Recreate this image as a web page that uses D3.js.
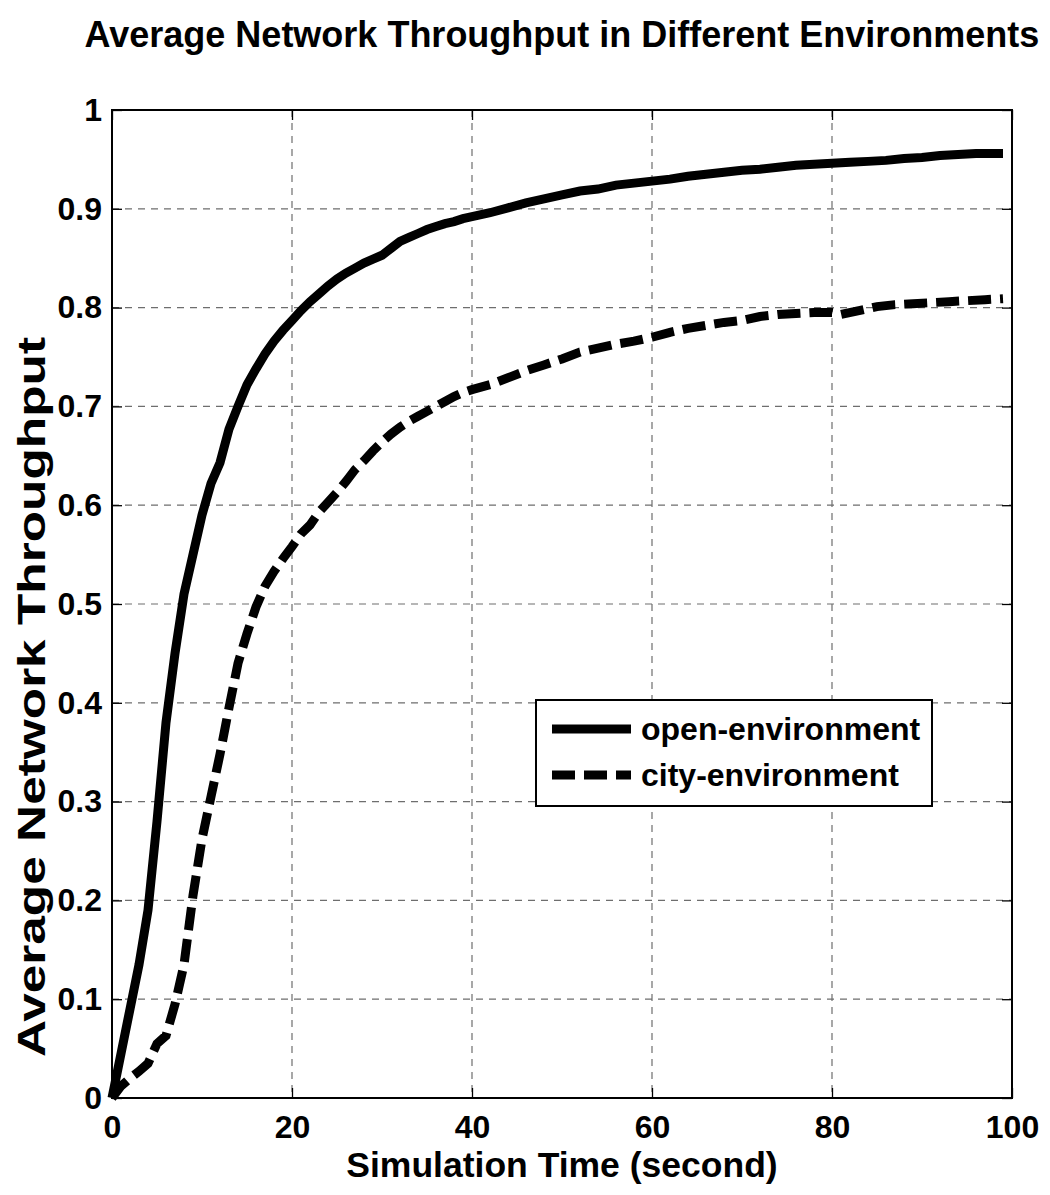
<!DOCTYPE html>
<html>
<head>
<meta charset="utf-8">
<script src="https://cdn.jsdelivr.net/npm/d3@7"></script>
<style>
  body { margin: 0; background: #fff; }
  text { font-family: "Liberation Sans", Arial, Helvetica, sans-serif; font-weight: bold; fill: #000; }
</style>
</head>
<body>
<script>
// Data
var openTime = [0,1,2,3,4,5,6,7,8,9,10,11,12,13,14,15,16,17,18,19,20,21,22,23,24,25,26,27,28,29,30,31,32,33,34,35,36,37,38,39,40,42,44,46,48,50,52,54,56,58,60,62,64,66,68,70,72,74,76,78,80,82,84,86,88,90,92,94,96,98,99];
var openValue = [0,0.045,0.09,0.135,0.19,0.28,0.38,0.45,0.51,0.55,0.59,0.622,0.643,0.677,0.70,0.722,0.738,0.753,0.766,0.777,0.787,0.797,0.806,0.814,0.822,0.829,0.835,0.840,0.845,0.849,0.853,0.860,0.867,0.871,0.875,0.879,0.882,0.885,0.887,0.890,0.892,0.896,0.901,0.906,0.910,0.914,0.918,0.920,0.924,0.926,0.928,0.930,0.933,0.935,0.937,0.939,0.940,0.942,0.944,0.945,0.946,0.947,0.948,0.949,0.951,0.952,0.954,0.955,0.956,0.956,0.956];

var cityTime = [0,1,2,3,4,5,6,7,8,9,10,11,12,13,14,15,16,17,18,19,20,21,22,23,24,25,26,27,28,29,30,31,32,33,34,35,36,37,38,39,40,42,44,46,48,50,52,54,56,58,60,62,64,66,68,70,72,74,76,78,80,81,83,85,87,89,91,93,95,97,99];
var cityValue = [0,0.012,0.02,0.027,0.035,0.055,0.063,0.095,0.135,0.205,0.262,0.305,0.348,0.395,0.44,0.47,0.497,0.518,0.533,0.546,0.558,0.571,0.580,0.593,0.603,0.613,0.624,0.636,0.645,0.655,0.664,0.672,0.679,0.685,0.690,0.695,0.700,0.705,0.710,0.714,0.717,0.722,0.729,0.736,0.742,0.748,0.755,0.759,0.763,0.766,0.770,0.775,0.779,0.782,0.785,0.787,0.791,0.793,0.794,0.795,0.795,0.793,0.797,0.801,0.803,0.804,0.805,0.806,0.807,0.808,0.809];

var seriesNames = ["open-environment", "city-environment"];
var xTicks = [0, 20, 40, 60, 80, 100];
var yTicks = [0, 0.1, 0.2, 0.3, 0.4, 0.5, 0.6, 0.7, 0.8, 0.9, 1];

var svgWidth = 1050;
var svgHeight = 1195;
var margin = { top: 110, right: 38, bottom: 97, left: 112 };
var width = svgWidth - margin.left - margin.right;
var height = svgHeight - margin.top - margin.bottom;

var svg = d3.select("body")
  .append("svg")
  .attr("width", svgWidth)
  .attr("height", svgHeight);

svg.append("rect")
  .attr("width", svgWidth)
  .attr("height", svgHeight)
  .attr("fill", "#fff");

var chart = svg.append("g")
  .attr("transform", "translate(" + margin.left + "," + margin.top + ")");

var x = d3.scaleLinear().domain([0, 100]).range([0, width]);
var y = d3.scaleLinear().domain([0, 1]).range([height, 0]);

// Grid lines (dashed grey)
chart.append("g")
  .selectAll("line")
  .data(xTicks.slice(1, -1))
  .enter().append("line")
  .attr("x1", function (d) { return x(d); })
  .attr("x2", function (d) { return x(d); })
  .attr("y1", 0)
  .attr("y2", height)
  .attr("stroke", "#6e6e6e")
  .attr("stroke-width", 1.2)
  .attr("stroke-dasharray", "7,6");

chart.append("g")
  .selectAll("line")
  .data(yTicks.slice(1, -1))
  .enter().append("line")
  .attr("x1", 0)
  .attr("x2", width)
  .attr("y1", function (d) { return y(d); })
  .attr("y2", function (d) { return y(d); })
  .attr("stroke", "#6e6e6e")
  .attr("stroke-width", 1.2)
  .attr("stroke-dasharray", "7,6");

// Axes, ticks pointing inward (MATLAB style)
var bottomAxis = d3.axisBottom(x).tickValues(xTicks).tickSize(-10).tickPadding(17).tickFormat(d3.format("d"));
var topAxis = d3.axisTop(x).tickValues(xTicks).tickSize(-10).tickFormat("");
var leftAxis = d3.axisLeft(y).tickValues(yTicks).tickSize(-10).tickPadding(10).tickFormat(function (d) { return d3.format("")(+d.toFixed(1)); });
var rightAxis = d3.axisRight(y).tickValues(yTicks).tickSize(-10).tickFormat("");

function styleAxis(g) {
  g.select(".domain").remove();
  g.selectAll(".tick line").attr("stroke", "#000").attr("stroke-width", 1.3);
  g.selectAll(".tick text")
    .style("font-family", "'Liberation Sans', Arial, sans-serif")
    .style("font-weight", "bold")
    .style("font-size", "32px")
    .attr("fill", "#000");
}

chart.append("g").attr("transform", "translate(0," + height + ")").call(bottomAxis).call(styleAxis);
chart.append("g").call(topAxis).call(styleAxis);
chart.append("g").call(leftAxis).call(styleAxis);
chart.append("g").attr("transform", "translate(" + width + ",0)").call(rightAxis).call(styleAxis);

// Box
chart.append("rect")
  .attr("width", width)
  .attr("height", height)
  .attr("fill", "none")
  .attr("stroke", "#000")
  .attr("stroke-width", 2);

// Lines
var line = d3.line()
  .x(function (d) { return x(d[0]); })
  .y(function (d) { return y(d[1]); });

var openData = d3.zip(openTime, openValue);
var cityData = d3.zip(cityTime, cityValue);

chart.append("path")
  .datum(openData)
  .attr("d", line)
  .attr("fill", "none")
  .attr("stroke", "#000")
  .attr("stroke-width", 9);

chart.append("path")
  .datum(cityData)
  .attr("d", line)
  .attr("fill", "none")
  .attr("stroke", "#000")
  .attr("stroke-width", 9)
  .attr("stroke-dasharray", "23,9");

// Legend
var legend = svg.append("g").attr("transform", "translate(536,700)");
legend.append("rect")
  .attr("width", 396)
  .attr("height", 106)
  .attr("fill", "#fff")
  .attr("stroke", "#000")
  .attr("stroke-width", 2);

var legendRows = [29, 75];
seriesNames.forEach(function (name, i) {
  legend.append("line")
    .attr("x1", 16)
    .attr("x2", 95)
    .attr("y1", legendRows[i])
    .attr("y2", legendRows[i])
    .attr("stroke", "#000")
    .attr("stroke-width", 9)
    .attr("stroke-dasharray", i === 1 ? "23,9" : null);
  legend.append("text")
    .attr("x", 105)
    .attr("y", legendRows[i])
    .attr("dy", "0.35em")
    .style("font-size", "32px")
    .text(name);
});

// Title and axis labels
svg.append("text")
  .attr("x", 562)
  .attr("y", 47)
  .attr("text-anchor", "middle")
  .style("font-size", "36px")
  .text("Average Network Throughput in Different Environments");

svg.append("text")
  .attr("x", 562)
  .attr("y", 1177)
  .attr("text-anchor", "middle")
  .style("font-size", "35.5px")
  .text("Simulation Time (second)");

svg.append("text")
  .attr("transform", "translate(45,697) rotate(-90)")
  .attr("text-anchor", "middle")
  .attr("textLength", 720)
  .attr("lengthAdjust", "spacingAndGlyphs")
  .style("font-size", "39px")
  .text("Average Network Throughput");
</script>
</body>
</html>
